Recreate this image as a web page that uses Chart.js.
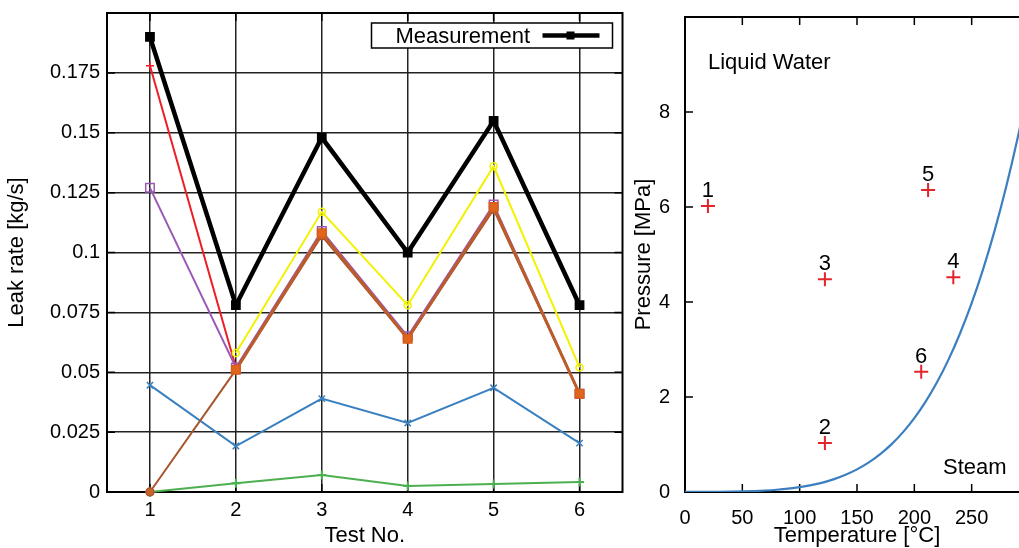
<!DOCTYPE html>
<html>
<head>
<meta charset="utf-8">
<script src="https://cdn.jsdelivr.net/npm/chart.js@4.4.1/dist/chart.umd.min.js"></script>
<style>
  html,body{margin:0;padding:0;background:#fff;overflow:hidden;}
  #wrap{position:relative;width:1019px;height:548px;overflow:hidden;}
  #leak{position:absolute;left:0;top:0;}
  #phase{position:absolute;left:625px;top:0;}
</style>
</head>
<body>
<div id="wrap">
  <canvas id="leak" width="630" height="548"></canvas>
  <canvas id="phase" width="413" height="548"></canvas>
</div>
<script>
// ---- left panel: leak rate per test ----
const testNos = ['1','2','3','4','5','6'];
const measuredLabel = 'Measurement';
const measured   = [0.190, 0.078, 0.148, 0.100, 0.155, 0.078];
const calcRed    = [0.178, 0.052, null, null, null, null];
const calcPurple = [0.127, 0.052, 0.109, 0.065, 0.120, 0.041];
const calcYellow = [null, 0.058, 0.117, 0.078, 0.136, 0.052];
const calcOrange = [null, 0.051, 0.108, 0.064, 0.119, 0.041];
const calcBrown  = [0.000, 0.051, 0.107, 0.064, 0.118, 0.041];
const calcBlue   = [0.0446, 0.0192, 0.0390, 0.0288, 0.0435, 0.0204];
const calcGreen  = [0.000, 0.0037, 0.0071, 0.0025, 0.0033, 0.0042];
const leakTicks  = [0, 0.025, 0.05, 0.075, 0.1, 0.125, 0.15, 0.175];
const leakTickLabels = ['0','0.025','0.05','0.075','0.1','0.125','0.15','0.175'];

// ---- right panel: test conditions vs saturation line ----
const testLabels = ['1','2','3','4','5','6'];
const testTemp   = [20, 122, 122, 234, 212, 206];
const testPress  = [6.02, 1.03, 4.48, 4.52, 6.36, 2.53];
const satTemp    = [0,10,20,30,40,50,60,70,80,90,100,110,120,130,140,150,160,170,180,190,200,210,220,230,240,250,260,270,280,290,300];
const satPress   = [0.0006,0.0012,0.0023,0.0042,0.0074,0.0124,0.0199,0.0312,0.0474,0.0702,0.1014,0.1434,0.1987,0.2703,0.3615,0.4762,0.6182,0.7922,1.0028,1.2552,1.5549,1.9077,2.3196,2.7971,3.3469,3.9762,4.6923,5.5030,6.4166,7.4418,8.5879];
const tempTicks  = [0, 50, 100, 150, 200, 250];
const pressTicks = [0, 2, 4, 6, 8];

const FONT = '"Liberation Sans", Arial, Helvetica, sans-serif';
Chart.defaults.font.family = FONT;
Chart.defaults.color = '#000';

// box + inward tick marks, matlab style
const framePlugin = {
  id: 'frame',
  beforeDatasetsDraw(chart, args, opts){
    const {ctx, chartArea:a, scales} = chart;
    const len = opts.tickLength || 8;
    ctx.save();
    ctx.strokeStyle = '#000';
    ctx.lineWidth = 2;
    ctx.strokeRect(a.left, a.top, a.right - a.left, a.bottom - a.top);
    ctx.lineWidth = 1.5;
    ctx.beginPath();
    scales.x.ticks.forEach((t, i) => {
      const px = scales.x.getPixelForTick(i);
      ctx.moveTo(px, a.bottom); ctx.lineTo(px, a.bottom - len);
      ctx.moveTo(px, a.top); ctx.lineTo(px, a.top + len);
    });
    scales.y.ticks.forEach((t, i) => {
      const py = scales.y.getPixelForTick(i);
      ctx.moveTo(a.left, py); ctx.lineTo(a.left + len, py);
      if (opts.rightTicks !== false) { ctx.moveTo(a.right, py); ctx.lineTo(a.right - len, py); }
    });
    ctx.stroke();
    ctx.restore();
  }
};

const legendBox = {
  id: 'legendBox',
  afterDraw(chart){
    const {ctx, chartArea} = chart;
    const w = 241, h = 25;
    const x = chartArea.right - 10 - w, y = chartArea.top + 10;
    ctx.save();
    ctx.fillStyle = '#fff';
    ctx.fillRect(x, y, w, h);
    ctx.lineWidth = 1.5;
    ctx.strokeStyle = '#000';
    ctx.strokeRect(x, y, w, h);
    ctx.fillStyle = '#000';
    ctx.font = '22px ' + FONT;
    ctx.textBaseline = 'middle';
    ctx.fillText(measuredLabel, x + 24, y + h / 2 + 1);
    ctx.lineWidth = 4.5;
    ctx.beginPath();
    ctx.moveTo(x + 171, y + h / 2);
    ctx.lineTo(x + 228, y + h / 2);
    ctx.stroke();
    ctx.fillRect(x + 195, y + h / 2 - 4, 8, 8);
    ctx.restore();
  }
};

const phaseNotes = {
  id: 'phaseNotes',
  afterDatasetsDraw(chart, args, opts){
    const {ctx, scales:{x, y}} = chart;
    ctx.save();
    ctx.font = '22px ' + FONT;
    ctx.fillStyle = '#000';
    ctx.textAlign = 'center';
    ctx.textBaseline = 'alphabetic';
    testLabels.forEach((t, i) => {
      ctx.fillText(t, x.getPixelForValue(testTemp[i]), y.getPixelForValue(testPress[i]) - 9);
    });
    ctx.textAlign = 'left';
    ctx.textBaseline = 'middle';
    (opts.notes || []).forEach(n => {
      ctx.fillText(n.text, x.getPixelForValue(n.x), y.getPixelForValue(n.y));
    });
    ctx.restore();
  }
};

// drop chart.js' automatic label padding so the plot box sits where we say
function noPad(scale){
  scale.paddingTop = 0; scale.paddingBottom = 0;
  scale.paddingLeft = 0; scale.paddingRight = 0;
}

function lineSet(data, color, opts){
  return Object.assign({
    data, borderColor: color, backgroundColor: color,
    borderWidth: 2, pointRadius: 4, pointBorderWidth: 1.5,
    pointStyle: 'circle', clip: false, spanGaps: false
  }, opts);
}

new Chart(document.getElementById('leak'), {
  type: 'line',
  data: {
    labels: testNos,
    datasets: [
      lineSet(measured, '#000', {label: measuredLabel, borderWidth: 4.5, pointStyle: 'rect', pointRadius: 5.5, pointBorderWidth: 2, order: 0}),
      lineSet(calcYellow, '#f2f200', {pointRadius: 3.5, backgroundColor: 'rgba(0,0,0,0)', order: 1}),
      lineSet(calcOrange, '#bb5c2b', {borderWidth: 3, pointStyle: 'rect', pointRadius: 6, backgroundColor: '#e0661c', pointBorderColor: '#d95b1a', order: 2}),
      lineSet(calcBrown, '#a8552d', {pointRadius: 4, backgroundColor: '#c9652c', order: 3}),
      lineSet(calcPurple, '#9b59b6', {pointStyle: 'rect', pointRadius: 6, backgroundColor: 'rgba(0,0,0,0)', order: 4}),
      lineSet(calcRed, '#ee1c25', {pointStyle: 'cross', pointRadius: 4, order: 5}),
      lineSet(calcBlue, '#3a80c0', {pointStyle: 'crossRot', pointRadius: 4.5, order: 6}),
      lineSet(calcGreen, '#4cb050', {pointStyle: 'cross', pointRadius: 4.5, pointBorderWidth: 2, order: 7})
    ]
  },
  options: {
    responsive: false,
    animation: false,
    layout: {padding: {top: 13, right: 4, left: 0, bottom: 0}},
    plugins: {legend: {display: false}, tooltip: {enabled: false}, frame: {tickLength: 8}},
    scales: {
      x: {
        type: 'category',
        offset: true,
        grid: {color: '#222', lineWidth: 1.5, drawTicks: false},
        border: {display: false},
        ticks: {font: {size: 20}, padding: 6, color: '#000'},
        title: {display: true, text: 'Test No.', font: {size: 22}, padding: {top: 0, bottom: -1}},
        afterFit(scale){ scale.height = 56; noPad(scale); }
      },
      y: {
        type: 'linear',
        min: 0, max: 0.2,
        afterBuildTicks(scale){ scale.ticks = leakTicks.map(v => ({value: v})); },
        grid: {color: '#222', lineWidth: 1.5, drawTicks: false},
        border: {display: false},
        ticks: {font: {size: 20}, padding: 7, color: '#000', callback: (v, i) => leakTickLabels[i]},
        title: {display: true, text: 'Leak rate [kg/s]', font: {size: 22}, padding: {top: 4, bottom: 0}},
        afterFit(scale){ scale.width = 107; noPad(scale); }
      }
    }
  },
  plugins: [framePlugin, legendBox]
});

new Chart(document.getElementById('phase'), {
  type: 'scatter',
  data: {
    datasets: [
      {
        data: testTemp.map((t, i) => ({x: t, y: testPress[i]})),
        pointStyle: 'cross', pointRadius: 7, pointBorderWidth: 2,
        borderColor: '#e3242b', backgroundColor: '#e3242b', showLine: false, order: 0
      },
      {
        data: satTemp.map((t, i) => ({x: t, y: satPress[i]})),
        showLine: true, borderColor: '#3b7fc0', borderWidth: 2.2, pointRadius: 0,
        cubicInterpolationMode: 'monotone', order: 1
      }
    ]
  },
  options: {
    responsive: false,
    animation: false,
    layout: {padding: {top: 17, right: 3, left: 0, bottom: 0}},
    plugins: {
      legend: {display: false}, tooltip: {enabled: false},
      frame: {tickLength: 8, rightTicks: false},
      phaseNotes: {notes: [{text: 'Liquid Water', x: 20, y: 9.03}, {text: 'Steam', x: 225, y: 0.5}]}
    },
    scales: {
      x: {
        type: 'linear', min: 0, max: 300,
        afterBuildTicks(scale){ scale.ticks = tempTicks.map(v => ({value: v})); },
        grid: {display: false},
        border: {display: false},
        ticks: {font: {size: 20}, padding: 6, color: '#000'},
        title: {display: true, text: 'Temperature [°C]', font: {size: 22}, padding: {top: 0, bottom: -1}},
        afterFit(scale){ scale.height = 56; noPad(scale); }
      },
      y: {
        type: 'linear', min: 0, max: 10,
        afterBuildTicks(scale){ scale.ticks = pressTicks.map(v => ({value: v})); },
        grid: {display: false},
        border: {display: false},
        ticks: {font: {size: 20}, padding: 7, color: '#000'},
        title: {display: true, text: 'Pressure [MPa]', font: {size: 22}, padding: {top: 6, bottom: 0}},
        afterFit(scale){ scale.width = 60; noPad(scale); }
      }
    }
  },
  plugins: [framePlugin, phaseNotes]
});
</script>
</body>
</html>
